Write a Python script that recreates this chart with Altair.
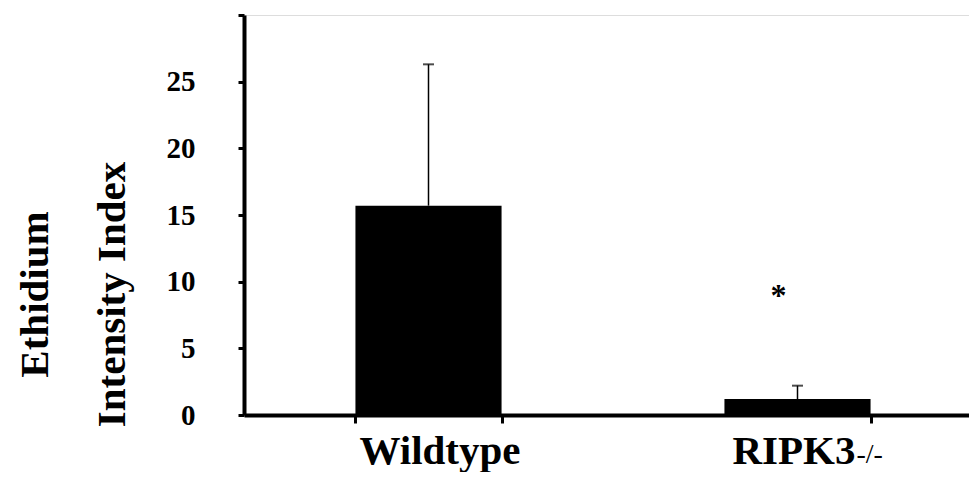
import altair as alt
import pandas as pd

# ---- data ----
categories = ["Wildtype", "RIPK3-/-"]
means = [15.7, 1.2]
errors = [10.6, 1.0]
sig_group = ["RIPK3-/-"]
sig_text = ["*"]
sig_y = [8.2]
y_ticks = [0, 5, 10, 15, 20, 25, 30]

FONT = "Liberation Serif"

df = pd.DataFrame({"group": categories, "mean": means, "err": errors})
df["upper"] = df["mean"] + df["err"]
sig_df = pd.DataFrame({"group": sig_group, "text": sig_text, "y": sig_y})
suffix_df = pd.DataFrame({"group": ["RIPK3-/-"], "text": ["-/-"]})

W, H = 725, 400

x_enc = alt.X(
    "group:N",
    sort=categories,
    scale=alt.Scale(range=[0, 738], paddingInner=0.604, paddingOuter=0.302),
    axis=alt.Axis(
        title=None,
        domainWidth=4,
        domainColor="black",
        tickBand="extent",
        tickSize=8,
        tickWidth=3,
        tickColor="black",
        labelFont=FONT,
        labelFontSize=41,
        labelFontWeight="bold",
        labelColor="black",
        labelBaseline="alphabetic",
        labelPadding=40,
        labelAngle=0,
        labelLimit=0,
        labelExpr="datum.value == 'RIPK3-/-' ? 'RIPK3' : datum.label",
        labelOffset={"condition": {"test": "datum.value == 'RIPK3-/-'", "value": -4}, "value": 11},
    ),
)

y_scale = alt.Scale(domain=[0, 30], nice=False)

y_axis = alt.Axis(
    values=y_ticks,
    labelExpr="datum.value == 30 ? '' : datum.label",
    grid=False,
    domainWidth=4,
    domainColor="black",
    tickSize=6,
    tickWidth=3,
    tickColor="black",
    labelFont=FONT,
    labelFontSize=29,
    labelFontWeight="bold",
    labelColor="black",
    labelPadding=43,
    title=["Ethidium", "Intensity Index"],
    titleFont=FONT,
    titleFontSize=41,
    titleFontWeight="bold",
    titleColor="black",
    titleX=-197,
    titleY=279,
    titleAngle=270,
    titleAlign="center",
    titleBaseline="alphabetic",
    titleLineHeight=77,
)

base = alt.Chart(df)

bars = base.mark_bar(color="black").encode(
    x=x_enc,
    y=alt.Y("mean:Q", scale=y_scale, axis=y_axis),
)

err_rule = base.mark_rule(color="black", strokeWidth=1.5).encode(
    x=alt.X("group:N", sort=categories),
    y=alt.Y("mean:Q"),
    y2="upper:Q",
)

err_cap = base.mark_tick(color="black", size=11, thickness=2, orient="horizontal").encode(
    x=alt.X("group:N", sort=categories),
    y=alt.Y("upper:Q"),
)

asterisk = alt.Chart(sig_df).mark_text(
    font=FONT, fontSize=32, fontWeight="bold", color="black", dx=-19, baseline="alphabetic"
).encode(
    x=alt.X("group:N", sort=categories),
    y=alt.Y("y:Q"),
    text="text:N",
)

suffix = alt.Chart(suffix_df).mark_text(
    font=FONT, fontSize=28, color="black", align="left", dx=59, baseline="alphabetic"
).encode(
    x=alt.X("group:N", sort=categories),
    y=alt.value(448),
    text="text:N",
)

chart = (
    alt.layer(bars, err_rule, err_cap, asterisk, suffix)
    .properties(
        width=W,
        height=H,
        autosize=alt.AutoSizeParams(type="none"),
        padding={"left": 236, "top": 7, "right": 0, "bottom": 57},
    )
    .configure_view(stroke=None)
    .configure(background="white")
)

chart.save("out.html", embed_options={"renderer": "svg", "actions": False})
